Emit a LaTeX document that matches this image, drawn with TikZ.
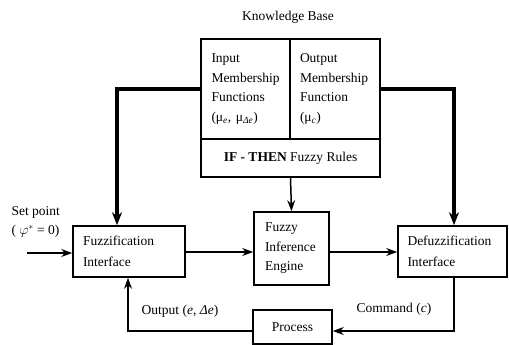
\documentclass[tikz,border=0pt]{standalone}
\usepackage{fontspec}
\setmainfont{Liberation Serif}
\usetikzlibrary{arrows.meta}
\begin{document}
\begin{tikzpicture}[x=1pt,y=-1pt,
  txt/.style={font=\fontsize{13.5}{19.5}\selectfont},
  blk/.style={draw,line width=1.6pt,rectangle,inner sep=0pt,txt},
  thinarr/.style={line width=1.5pt,-{Stealth[length=11pt,width=8pt]}},
  thickarr/.style={line width=3.2pt,-{Stealth[length=13pt,width=10pt]}},
  plain/.style={line width=1.5pt}]
\useasboundingbox (0,0) rectangle (509,345);
% Knowledge base
\node[txt] (kbl) at (288,17) {Knowledge Base};
\node[blk,minimum width=89pt,minimum height=100pt,align=left,text width=68pt] (ikb) at (245.5,89)
  {Input\\Membership\\Functions\\(μ\textsubscript{\textit{e}}, μ\textsubscript{\textit{Δe}})};
\node[blk,minimum width=90pt,minimum height=100pt,align=left,text width=70pt] (okb) at (335,89)
  {Output\\Membership\\Function\\(μ\textsubscript{\textit{c}})};
\node[blk,minimum width=179pt,minimum height=38pt] (rules) at (290.5,158)
  {\textbf{IF - THEN} Fuzzy Rules};
% main blocks
\node[blk,minimum width=112pt,minimum height=51pt,align=left,text width=92pt,font=\fontsize{13.5}{21}\selectfont] (fz) at (129,251.5)
  {Fuzzification\\Interface};
\node[blk,minimum width=75pt,minimum height=73pt,align=left,text width=53pt] (fie) at (291.5,248.5)
  {Fuzzy\\Inference\\Engine};
\node[blk,minimum width=109pt,minimum height=51pt,align=left,text width=90pt,font=\fontsize{13.5}{21}\selectfont] (df) at (452.5,251.5)
  {Defuzzification\\Interface};
\node[blk,minimum width=79pt,minimum height=34pt] (pr) at (292.5,327) {Process};
% labels
\node[txt,align=left,anchor=west] (sp) at (8,222) {Set point\\( $\varphi^{*}$ = 0)};
\node[txt] (outl) at (180,311) {Output (\textit{e}, \textit{Δe})};
\node[txt] (cmdl) at (394,309) {Command (\textit{c})};
% coordinates
\coordinate (spin) at (27,253);
\coordinate (kl) at (117,0);
\coordinate (kr) at (454,0);
\coordinate (fbl) at (128,0);
\coordinate (fb) at (0,331);
% connectors
\draw[thinarr] (spin) -- (spin -| fz.west);
\draw[thinarr] (fz.east |- 0,252) -- (fie.west |- 0,252);
\draw[thinarr] (fie.east |- 0,252) -- (df.west |- 0,252);
\draw[thinarr] (rules.south) -- (fie.north);
\draw[thickarr] (ikb.west) -| (kl |- fz.north);
\draw[thickarr] (okb.east) -| (kr |- df.north);
\draw[thinarr] (kr |- df.south) |- (pr.east |- fb);
\draw[thinarr] (pr.west |- fb) -| (fbl |- fz.south);
\end{tikzpicture}
\end{document}
